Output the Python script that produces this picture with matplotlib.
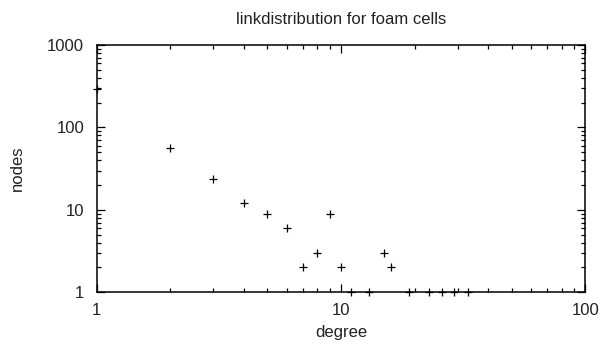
import numpy as np
import matplotlib
matplotlib.use("Agg")
import matplotlib.pyplot as plt
from matplotlib.ticker import LogLocator, FixedLocator, FixedFormatter

plt.rcParams['font.family'] = ['Liberation Sans', 'DejaVu Sans']

# degree distribution
degree = [1, 2, 3, 4, 5, 6, 7, 8, 9, 10, 11, 13, 15, 16, 19, 23, 26, 29, 33]
nodes = [290, 56, 24, 12, 9, 6, 2, 3, 9, 2, 1, 1, 3, 2, 1, 1, 1, 1, 1]

xticks = [1, 10, 100]
xlabels = ["1", "10", "100"]
yticks = [1, 10, 100, 1000]
ylabels = ["1", "10", "100", "1000"]

fig = plt.figure(figsize=(6.02, 3.47), dpi=100)
ax = fig.add_axes([0.1606, 0.1576, 0.8117, 0.7127])

ax.plot(degree, nodes, linestyle="none", marker="+", color="black",
        markersize=5.3, markeredgewidth=0.9, clip_on=False, zorder=5)

ax.set_xscale("log")
ax.set_yscale("log")
ax.set_xlim(1, 100)
ax.set_ylim(1, 1000)

ax.xaxis.set_major_locator(FixedLocator(xticks))
ax.xaxis.set_major_formatter(FixedFormatter(xlabels))
ax.yaxis.set_major_locator(FixedLocator(yticks))
ax.yaxis.set_major_formatter(FixedFormatter(ylabels))
ax.xaxis.set_minor_locator(LogLocator(base=10, subs=np.arange(2, 10)))
ax.yaxis.set_minor_locator(LogLocator(base=10, subs=np.arange(2, 10)))
ax.xaxis.set_minor_formatter(plt.NullFormatter())
ax.yaxis.set_minor_formatter(plt.NullFormatter())

ax.tick_params(which="both", direction="in", top=True, right=True,
               color="black", labelsize=12, labelcolor="#222222")
ax.tick_params(axis="x", pad=8)
ax.tick_params(axis="y", pad=9)
ax.tick_params(which="major", length=6, width=0.9)
ax.tick_params(which="minor", length=3, width=0.9)
for s in ax.spines.values():
    s.set_linewidth(1.1)
    s.set_color("black")

ax.set_title("linkdistribution for foam cells", fontsize=12, pad=15,
             color="#222222")
ax.set_xlabel("degree", fontsize=12, labelpad=5, color="#222222")
ax.set_ylabel("nodes", fontsize=12, labelpad=16, color="#222222")

fig.savefig("out.png", dpi=100)
